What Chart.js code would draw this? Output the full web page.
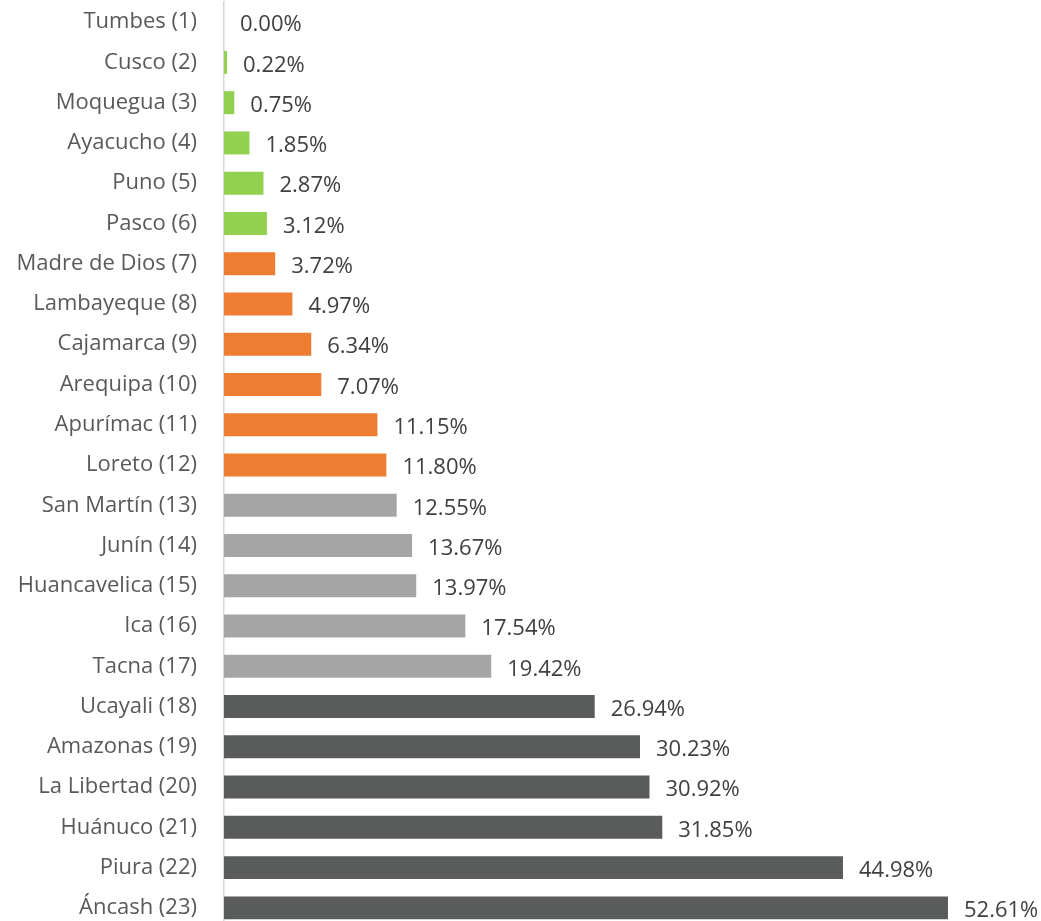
<!DOCTYPE html>
<html lang="es">
<head>
<meta charset="utf-8">
<title>Regiones</title>
<script src="https://cdn.jsdelivr.net/npm/chart.js@4.4.1/dist/chart.umd.min.js"></script>
<style>
  html, body { margin: 0; padding: 0; background: #ffffff; overflow: hidden; }
  #wrap { position: relative; width: 1041px; height: 928px; }
</style>
</head>
<body>
<div id="wrap"><canvas id="regionChart"></canvas></div>
<script>
// Datos
const regiones = [
  'Tumbes (1)', 'Cusco (2)', 'Moquegua (3)', 'Ayacucho (4)', 'Puno (5)', 'Pasco (6)',
  'Madre de Dios (7)', 'Lambayeque (8)', 'Cajamarca (9)', 'Arequipa (10)', 'Apurímac (11)',
  'Loreto (12)', 'San Martín (13)', 'Junín (14)', 'Huancavelica (15)', 'Ica (16)',
  'Tacna (17)', 'Ucayali (18)', 'Amazonas (19)', 'La Libertad (20)', 'Huánuco (21)',
  'Piura (22)', 'Áncash (23)'
];
const porcentajes = [
  0.00, 0.22, 0.75, 1.85, 2.87, 3.12,
  3.72, 4.97, 6.34, 7.07, 11.15,
  11.80, 12.55, 13.67, 13.97, 17.54,
  19.42, 26.94, 30.23, 30.92, 31.85,
  44.98, 52.61
];
const grupos = [
  1, 1, 1, 1, 1, 1,
  2, 2, 2, 2, 2,
  2, 3, 3, 3, 3,
  3, 4, 4, 4, 4,
  4, 4
];

// Estilos
const coloresGrupo = { 1: '#92d050', 2: '#ed7d31', 3: '#a5a5a5', 4: '#5a5b5b' };
const FUENTE = "'Open Sans', 'Noto Sans', sans-serif";

// Etiquetas de valor a la derecha de cada barra
const etiquetasValor = {
  id: 'etiquetasValor',
  afterDatasetsDraw(chart) {
    const ctx = chart.ctx;
    const meta = chart.getDatasetMeta(0);
    ctx.save();
    ctx.font = '22px ' + FUENTE;
    ctx.fillStyle = '#404040';
    ctx.textAlign = 'left';
    ctx.textBaseline = 'middle';
    meta.data.forEach((bar, i) => {
      ctx.fillText(porcentajes[i].toFixed(2) + '%', bar.x + 16, bar.y + 3);
    });
    ctx.restore();
  }
};

new Chart(document.getElementById('regionChart'), {
  type: 'bar',
  data: {
    labels: regiones,
    datasets: [{
      data: porcentajes,
      backgroundColor: grupos.map(g => coloresGrupo[g]),
      borderWidth: 0,
      barPercentage: 0.57,
      categoryPercentage: 1.0
    }]
  },
  options: {
    indexAxis: 'y',
    responsive: true,
    maintainAspectRatio: false,
    animation: false,
    layout: { padding: { top: 2, right: 0, bottom: 0, left: 0 } },
    plugins: {
      legend: { display: false },
      tooltip: { enabled: false }
    },
    scales: {
      x: {
        display: false,
        min: 0,
        max: 59.37
      },
      y: {
        afterFit(axis) {
          axis.width = 224;
          axis.paddingTop = 0;
          axis.paddingBottom = 0;
        },
        grid: { display: false, drawTicks: false },
        border: { display: true, color: '#d6d6d6', width: 1.5 },
        ticks: {
          color: '#595959',
          padding: 27,
          font: { family: FUENTE, size: 22 }
        }
      }
    }
  },
  plugins: [etiquetasValor]
});
</script>
</body>
</html>
